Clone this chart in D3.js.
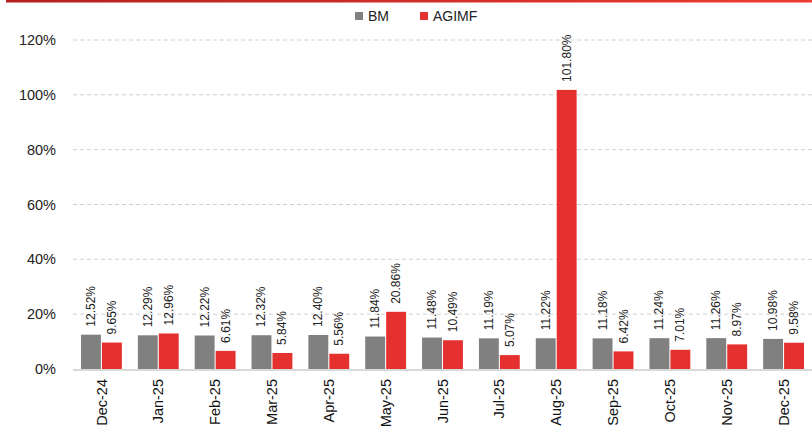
<!DOCTYPE html>
<html>
<head>
<meta charset="utf-8">
<script src="https://cdn.jsdelivr.net/npm/d3@7"></script>
<style>
  body { margin: 0; background: #fff; }
  svg { display: block; font-family: "Liberation Sans Narrow", "Liberation Sans", Arial, sans-serif; }
</style>
</head>
<body>
<div id="chart"></div>
<script>
var months = ["Dec-24", "Jan-25", "Feb-25", "Mar-25", "Apr-25", "May-25", "Jun-25",
              "Jul-25", "Aug-25", "Sep-25", "Oct-25", "Nov-25", "Dec-25"];
var bm    = [12.52, 12.29, 12.22, 12.32, 12.40, 11.84, 11.48, 11.19, 11.22, 11.18, 11.24, 11.26, 10.98];
var agimf = [9.65, 12.96, 6.61, 5.84, 5.56, 20.86, 10.49, 5.07, 101.80, 6.42, 7.01, 8.97, 9.58];
var yTicks = [0, 20, 40, 60, 80, 100, 120];
var seriesNames = ["BM", "AGIMF"];
var colors = ["#808080", "#e53030"];

var W = 812, H = 426;
var margin = {top: 40, right: 0, bottom: 57, left: 73},
    width = W - margin.left - margin.right,
    height = H - margin.top - margin.bottom;

var svg = d3.select("#chart").append("svg")
    .attr("width", W)
    .attr("height", H);

// top red rule
var grad = svg.append("defs").append("linearGradient")
    .attr("id", "topline").attr("x1", "0%").attr("x2", "100%");
grad.append("stop").attr("offset", "0%").attr("stop-color", "#b3201c");
grad.append("stop").attr("offset", "100%").attr("stop-color", "#ee3b33");
svg.append("rect")
    .attr("x", 6).attr("y", 0).attr("width", W - 6).attr("height", 2.5)
    .attr("fill", "url(#topline)");

var g = svg.append("g")
    .attr("transform", "translate(" + margin.left + "," + margin.top + ")");

var x = d3.scaleBand().domain(months).range([0, width]);
var x1 = d3.scaleBand().domain(seriesNames).range([8, x.bandwidth() - 8]).paddingInner(0.05);
var y = d3.scaleLinear().domain([0, 120]).range([height, 0]);

// gridlines
g.selectAll(".grid")
    .data(yTicks.filter(function(d) { return d > 0; }))
  .enter().append("line")
    .attr("x1", 0).attr("x2", width)
    .attr("y1", function(d) { return y(d); })
    .attr("y2", function(d) { return y(d); })
    .attr("stroke", "#d0d0d0")
    .attr("stroke-dasharray", "4,3");

// y axis labels
var yAxis = d3.axisLeft(y).tickValues(yTicks)
    .tickFormat(function(d) { return d + "%"; })
    .tickSize(0).tickPadding(17);
g.append("g").call(yAxis)
    .call(function(s) { s.select(".domain").remove(); })
  .selectAll("text")
    .attr("font-size", 14.5)
    .attr("fill", "#222")
    .style("font-family", "'Liberation Sans', Arial, sans-serif");

// bars
var rows = months.map(function(m, i) { return {month: m, vals: [bm[i], agimf[i]]}; });
var grp = g.selectAll(".grp")
    .data(rows)
  .enter().append("g")
    .attr("transform", function(d) { return "translate(" + x(d.month) + ",0)"; });

grp.selectAll("rect")
    .data(function(d) { return d.vals.map(function(v, j) { return {name: seriesNames[j], v: v, j: j}; }); })
  .enter().append("rect")
    .attr("x", function(d) { return x1(d.name); })
    .attr("width", x1.bandwidth())
    .attr("y", function(d) { return y(d.v); })
    .attr("height", function(d) { return height - y(d.v); })
    .attr("fill", function(d) { return colors[d.j]; });

grp.selectAll(".lbl")
    .data(function(d) { return d.vals.map(function(v, j) { return {name: seriesNames[j], v: v}; }); })
  .enter().append("text")
    .attr("transform", function(d) {
      return "translate(" + (x1(d.name) + x1.bandwidth() / 2 + 4) + "," + (y(d.v) - 8) + ") rotate(-90)";
    })
    .attr("font-size", 12)
    .attr("fill", "#222")
    .text(function(d) { return d.v.toFixed(2) + "%"; });

// x axis baseline
g.append("line")
    .attr("x1", 0).attr("x2", width)
    .attr("y1", height + 1).attr("y2", height + 1)
    .attr("stroke", "#d9d9d9").attr("stroke-width", 2);

// x labels
var xAxis = d3.axisBottom(x).tickSize(0);
g.append("g")
    .attr("transform", "translate(0," + height + ")")
    .call(xAxis)
    .call(function(s) { s.select(".domain").remove(); })
  .selectAll("text")
    .attr("font-size", 14.5)
    .attr("fill", "#111")
    .style("text-anchor", "end")
    .attr("transform", "rotate(-90)")
    .attr("x", -10)
    .attr("y", 0)
    .attr("dy", "0.35em");

// legend
var legend = svg.append("g").attr("transform", "translate(355,12)");
var lx = [0, 65];
seriesNames.forEach(function(n, i) {
  legend.append("rect")
      .attr("x", lx[i]).attr("y", 0).attr("width", 8).attr("height", 8)
      .attr("fill", colors[i]);
  legend.append("text")
      .attr("x", lx[i] + 13).attr("y", 9)
      .attr("font-size", 14)
      .attr("fill", "#222")
      .style("font-family", "'Liberation Sans', Arial, sans-serif")
      .text(n);
});
</script>
</body>
</html>
